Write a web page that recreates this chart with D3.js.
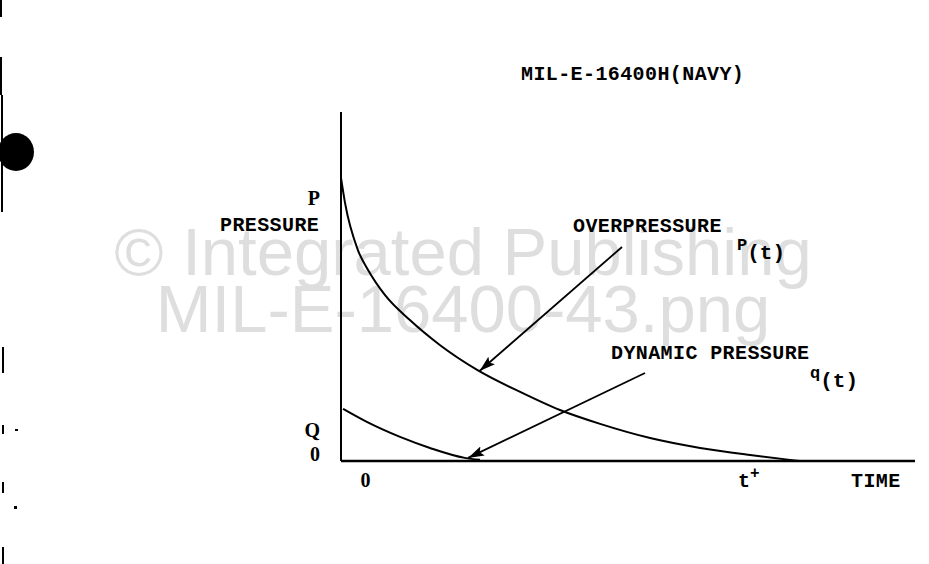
<!DOCTYPE html>
<html><head><meta charset="utf-8">
<script src="https://cdn.jsdelivr.net/npm/d3@7"></script>
<style>html,body{margin:0;padding:0;background:#fff;}svg{display:block;}</style>
</head><body>
<svg id="c" width="929" height="564"></svg>
<script>
// ---- data (time in units of t+, pressure in units of peak P) ----
const overTime  = [0, 0.0098, 0.041, 0.066, 0.107, 0.168, 0.241, 0.332, 0.437, 0.534, 0.632, 0.754, 0.876, 0.998, 1.095, 1.12];
const overPress = [1.0, 0.912, 0.746, 0.675, 0.587, 0.498, 0.410, 0.322, 0.244, 0.180, 0.131, 0.081, 0.046, 0.021, 0.004, 0];
const dynTime   = [0.005, 0.063, 0.144, 0.217, 0.302, 0.339];
const dynPress  = [0.184, 0.138, 0.085, 0.046, 0.011, 0.004];
const xTickVals   = [0.06, 1.0];
const xTickLabels = ["0", "t"];
const yTickVals   = [0.905, 0.085, 0.0];
const yTickLabels = ["P", "Q", "0"];
const title = "MIL-E-16400H(NAVY)";
const watermark = ["\u00A9 Integrated Publishing", "MIL-E-16400-43.png"];

const svg = d3.select("#c");
const x = d3.scaleLinear().domain([0, 1.4]).range([341, 915]);
const y = d3.scaleLinear().domain([0, 1.233]).range([461, 112]);
const mono = "'Liberation Mono', 'DejaVu Sans Mono', monospace";

// watermark
svg.selectAll("text.wm").data(watermark).join("text")
  .attr("x", 463).attr("y", (d, i) => 275 + i * 57)
  .attr("text-anchor", "middle")
  .attr("font-family", "'Liberation Sans', Arial, sans-serif")
  .attr("font-size", 67).attr("fill", "#dedede").text(d => d);

// scan artifacts on left margin
const marks = [[0,0,2,17],[0,57,2,38],[1,95,2,117],[2,347,2,26],[2,425,2,9],[15,429,3,2],[2,482,2,11],[14,506,3,3],[2,547,2,17]];
svg.selectAll("rect.mk").data(marks).join("rect")
  .attr("x", d => d[0]).attr("y", d => d[1]).attr("width", d => d[2]).attr("height", d => d[3]).attr("fill", "#000");
svg.append("ellipse").attr("cx", 16).attr("cy", 152).attr("rx", 18).attr("ry", 19).attr("fill", "#000");

// axes
svg.append("line").attr("x1", x(0)).attr("x2", x(0)).attr("y1", y(1.233)).attr("y2", y(0))
  .attr("stroke", "#000").attr("stroke-width", 2);
svg.append("line").attr("x1", x(0)).attr("x2", x(1.4)).attr("y1", y(0)).attr("y2", y(0))
  .attr("stroke", "#000").attr("stroke-width", 2.5);

// curves
const line = d3.line().x(d => x(d[0])).y(d => y(d[1])).curve(d3.curveMonotoneX);
svg.append("path").attr("d", line(d3.zip(overTime, overPress)))
  .attr("fill", "none").attr("stroke", "#000").attr("stroke-width", 2);
svg.append("path").attr("d", line(d3.zip(dynTime, dynPress)))
  .attr("fill", "none").attr("stroke", "#000").attr("stroke-width", 2);

// arrows
const defs = svg.append("defs");
defs.append("marker").attr("id", "ah").attr("viewBox", "0 0 16 10")
  .attr("refX", 16).attr("refY", 5).attr("markerWidth", 16).attr("markerHeight", 10)
  .attr("markerUnits", "userSpaceOnUse").attr("orient", "auto")
  .append("path").attr("d", "M0,0 L16,5 L0,10 L3,5 Z").attr("fill", "#000");
const arrows = [
  {x1: 622, y1: 247, t: 0.338, p: 0.318},
  {x1: 645, y1: 373, t: 0.31, p: 0.011}
];
svg.selectAll("line.ar").data(arrows).join("line")
  .attr("x1", d => d.x1).attr("y1", d => d.y1)
  .attr("x2", d => x(d.t)).attr("y2", d => y(d.p))
  .attr("stroke", "#000").attr("stroke-width", 1.8).attr("marker-end", "url(#ah)");

// text helper
function txt(s, xx, yy, opts = {}) {
  return svg.append("text").attr("x", xx).attr("y", yy)
    .attr("font-family", opts.family || mono).attr("font-weight", "bold")
    .attr("font-size", opts.size || 20).attr("letter-spacing", opts.ls != null ? opts.ls : 0.4)
    .attr("text-anchor", opts.anchor || "start").attr("fill", "#000").text(s);
}
txt(title, 521, 80);
txt("PRESSURE", 220, 231);
txt("OVERPRESSURE", 573, 232);
txt("DYNAMIC PRESSURE", 611, 359);
txt("TIME", 851, 487);

// y tick labels
yTickVals.forEach((v, i) => txt(yTickLabels[i], 320, y(v), {anchor: "end", family: "'Liberation Serif', serif", size: 20, ls: 0}));
// x tick labels
txt(xTickLabels[0], x(xTickVals[0]), 487, {anchor: "middle", family: "'Liberation Serif', serif", size: 20, ls: 0});
const xt1 = txt("", x(xTickVals[1]) - 13, 487, {ls: 0});
xt1.append("tspan").text(xTickLabels[1]);
xt1.append("tspan").attr("dy", -9).attr("font-size", 16).text("+");

// curve name labels
const pt = txt("", 737, 250, {ls: 0});
pt.append("tspan").attr("font-size", 17).text("P");
pt.append("tspan").attr("dy", 9).attr("font-size", 21).text("(t)");
const qt = txt("", 810, 378, {ls: 0});
qt.append("tspan").attr("font-size", 17).text("q");
qt.append("tspan").attr("dy", 9).attr("font-size", 21).text("(t)");
</script>
</body></html>
